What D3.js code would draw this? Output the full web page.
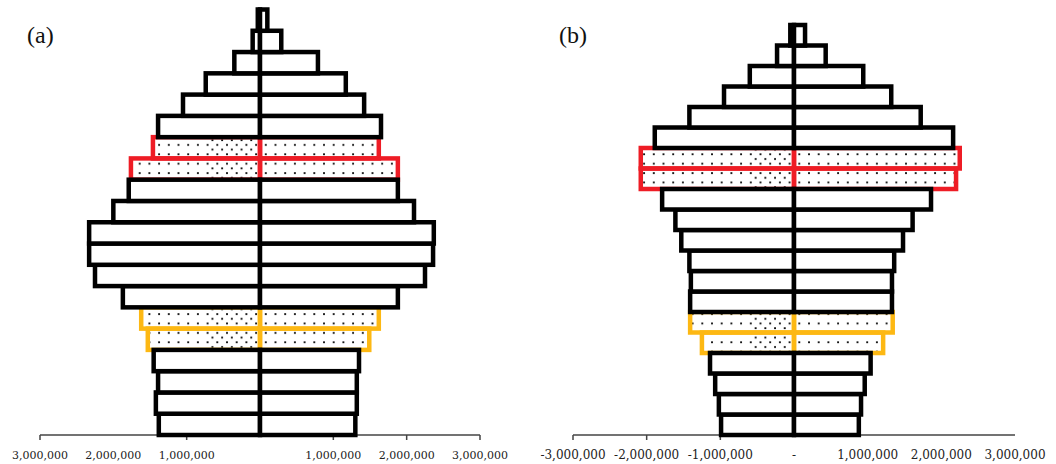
<!DOCTYPE html>
<html><head><meta charset="utf-8">
<script src="https://cdn.jsdelivr.net/npm/d3@7"></script>
<style>body{margin:0;background:#fff}svg{display:block}</style>
</head><body>
<svg id="chart" width="1056" height="464"></svg>
<script>
// Age groups, bottom (youngest) to top (oldest)
const ageGroups = ["0-4","5-9","10-14","15-19","20-24","25-29","30-34","35-39","40-44","45-49",
                   "50-54","55-59","60-64","65-69","70-74","75-79","80-84","85-89","90-94","95+"];
const highlightYellow = ["20-24","25-29"];
const highlightRed = ["60-64","65-69"];

// Panel (a) values (population), left and right halves, bottom to top
const aLeft  = [1380000,1420000,1390000,1450000,1530000,1620000,1870000,2250000,2330000,2330000,
                2000000,1790000,1760000,1460000,1390000,1050000,740000,350000,100000,30000];
const aRight = [1300000,1320000,1320000,1350000,1490000,1620000,1880000,2250000,2360000,2370000,
                2100000,1880000,1880000,1620000,1650000,1420000,1170000,790000,290000,100000];
// Panel (b)
const bLeft  = [990000,1020000,1070000,1140000,1250000,1410000,1410000,1400000,1420000,1530000,
                1610000,1790000,2080000,2080000,1890000,1420000,950000,600000,230000,50000];
const bRight = [880000,910000,960000,1040000,1210000,1340000,1330000,1330000,1360000,1480000,
                1610000,1860000,2200000,2250000,2160000,1720000,1320000,940000,430000,150000];

// Axis ticks and labels
const aTickValues = [-3000000,-1000000,1000000,2000000,3000000];
const aLabelValues = [-3000000,-2000000,-1000000,1000000,2000000,3000000];
const aLabels = ["3,000,000","2,000,000","1,000,000","1,000,000","2,000,000","3,000,000"];
const bTickValues = [-3000000,-2000000,-1000000];
const bLabelValues = [-3000000,-2000000,-1000000,0,1000000,2000000,3000000];
const bLabels = ["-3,000,000","-2,000,000","-1,000,000","-","1,000,000","2,000,000","3,000,000"];

const svg = d3.select("#chart");
const defs = svg.append("defs");

function addDotPattern(id, dx, dy) {
  const p = defs.append("pattern").attr("id", id).attr("patternUnits", "userSpaceOnUse")
    .attr("width", 9.7).attr("height", 9.4).attr("x", dx).attr("y", dy);
  p.append("rect").attr("x", 3).attr("y", 3).attr("width", 1.8).attr("height", 1.8).attr("fill", "#000");
}
addDotPattern("dots", 0, 0);
addDotPattern("dotsOff", 4.85, 4.7);

const RED = "#ee1c25", YELLOW = "#fdb813";
const SW = 4.5;

function panel(cfg) {
  const x = d3.scaleLinear().domain([-3000000, 3000000]).range(cfg.xRange);
  const y = d3.scaleBand().domain(ageGroups.slice().reverse()).range(cfg.yRange).padding(0);
  const g = svg.append("g");

  // axis
  const ax = g.append("g");
  ax.append("line").attr("x1", x(-3000000)).attr("x2", x(3000000))
    .attr("y1", cfg.yRange[1]).attr("y2", cfg.yRange[1])
    .attr("stroke", "#444").attr("stroke-width", 1.5);
  ax.selectAll("line.tick").data(cfg.ticks).join("line").attr("class", "tick")
    .attr("x1", d => x(d)).attr("x2", d => x(d))
    .attr("y1", cfg.yRange[1]).attr("y2", cfg.yRange[1] + 5)
    .attr("stroke", "#444").attr("stroke-width", 1.5);
  ax.selectAll("text").data(cfg.labelValues).join("text")
    .attr("x", d => x(d)).attr("y", cfg.labelY)
    .attr("text-anchor", "middle")
    .attr("font-family", "DejaVu Serif").attr("font-size", cfg.labelSize)
    .attr("fill", "#222")
    .text((d, i) => cfg.labels[i]);

  const rows = ageGroups.map((a, i) => ({
    age: a, left: cfg.left[i], right: cfg.right[i],
    color: highlightRed.includes(a) ? RED : highlightYellow.includes(a) ? YELLOW : null
  }));
  const colored = rows.filter(r => r.color);
  const plain = rows.filter(r => !r.color);

  function drawRows(data) {
    const gg = g.append("g");
    data.forEach(r => {
      const yy = y(r.age), h = y.bandwidth();
      const boxes = [
        {x0: x(-r.left), x1: x(0), side: "L"},
        {x0: x(0), x1: x(r.right), side: "R"}
      ];
      boxes.forEach(b => {
        if (r.color) {
          gg.append("rect").attr("x", b.x0).attr("y", yy).attr("width", b.x1 - b.x0).attr("height", h)
            .attr("fill", "url(#dots)");
          if (b.side === "L") {
            const w = Math.min(cfg.denseW, b.x1 - b.x0);
            gg.append("rect").attr("x", b.x1 - w).attr("y", yy).attr("width", w).attr("height", h)
              .attr("fill", "url(#dotsOff)");
          }
          gg.append("rect").attr("x", b.x0).attr("y", yy).attr("width", b.x1 - b.x0).attr("height", h)
            .attr("fill", "none").attr("stroke", r.color).attr("stroke-width", SW);
        } else {
          gg.append("rect").attr("x", b.x0).attr("y", yy).attr("width", b.x1 - b.x0).attr("height", h)
            .attr("fill", "#fff").attr("stroke", "#000").attr("stroke-width", SW);
        }
      });
    });
  }
  drawRows(colored);
  drawRows(plain);

  svg.append("text").attr("x", cfg.titleX).attr("y", 43)
    .attr("font-family", "Liberation Serif").attr("font-size", 24).attr("fill", "#111")
    .text(cfg.title);
}

panel({title: "(a)", titleX: 27, xRange: [40, 480], yRange: [9.5, 435],
       left: aLeft, right: aRight, ticks: aTickValues, labelValues: aLabelValues, labels: aLabels,
       labelY: 459, labelSize: 11, denseW: 52});
panel({title: "(b)", titleX: 559, xRange: [573, 1015], yRange: [25, 435],
       left: bLeft, right: bRight, ticks: bTickValues, labelValues: bLabelValues, labels: bLabels,
       labelY: 459, labelSize: 12, denseW: 40});
</script>
</body></html>
